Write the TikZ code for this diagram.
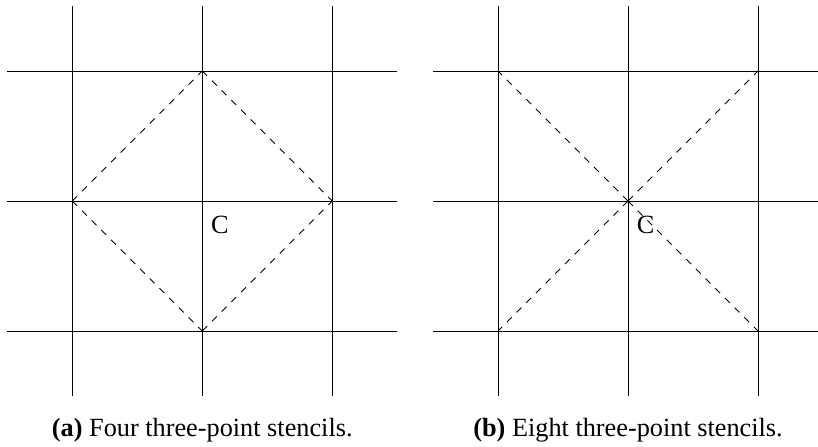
\documentclass[tikz,border=0pt]{standalone}
\usepackage{fontspec}
\setmainfont{Liberation Serif}
\usepackage{tikz}
\usetikzlibrary{positioning,calc}
\tikzstyle{gridline} = [black,thin]
\tikzstyle{stencil} = [black,dashed,thin]
\tikzstyle{caption} = [anchor=base,inner sep=0pt,font=\fontsize{11.5}{14}\selectfont]
\tikzstyle{centre} = [anchor=north west,inner sep=0pt,font=\fontsize{11.5}{14}\selectfont]

\begin{document}
\begin{tikzpicture}[x=2cm,y=2cm]
	\useasboundingbox (-1.556,-1.892) rectangle (4.736,1.546);
	
	% (a) four stencils
	\draw[gridline] (-1.5,1) -- (1.5,1);
	\draw[gridline] (-1.5,0) -- (1.5,0);
	\draw[gridline] (-1.5,-1) -- (1.5,-1);
	\draw[gridline] (-1,-1.5) -- (-1,1.5);
	\draw[gridline] (0,-1.5) -- (0,1.5);
	\draw[gridline] (1,-1.5) -- (1,1.5);
	
	\coordinate (a-c) at (0,0);
	\coordinate (a-n) at (0,1);
	\coordinate (a-s) at (0,-1);
	\coordinate (a-e) at (1,0);
	\coordinate (a-w) at (-1,0);
	
	\draw[stencil] (a-w) -- (a-n);
	\draw[stencil] (a-n) -- (a-e);
	\draw[stencil] (a-w) -- (a-s);
	\draw[stencil] (a-s) -- (a-e);
	
	\node[centre] (a-lab) at ($(a-c)+(0.13cm,-0.23cm)$) {C};
	\node[caption] (a-cap) at (0,-1.81) {\textbf{(a)} Four three-point stencils.};
	
	% (b) eight stencils
	\begin{scope}[xshift=6.55cm]
		\draw[gridline] (-1.5,1) -- (1.5,1);
		\draw[gridline] (-1.5,0) -- (1.5,0);
		\draw[gridline] (-1.5,-1) -- (1.5,-1);
		\draw[gridline] (-1,-1.5) -- (-1,1.5);
		\draw[gridline] (0,-1.5) -- (0,1.5);
		\draw[gridline] (1,-1.5) -- (1,1.5);
		
		\coordinate (b-c) at (0,0);
		\coordinate (b-ne) at (1,1);
		\coordinate (b-nw) at (-1,1);
		\coordinate (b-se) at (1,-1);
		\coordinate (b-sw) at (-1,-1);
		
		\draw[stencil] (b-c) -- (b-ne);
		\draw[stencil] (b-c) -- (b-nw);
		\draw[stencil] (b-c) -- (b-se);
		\draw[stencil] (b-c) -- (b-sw);
		
		\node[centre] (b-lab) at ($(b-c)+(0.13cm,-0.23cm)$) {C};
		\node[caption] (b-cap) at (0,-1.81) {\textbf{(b)} Eight three-point stencils.};
	\end{scope}
\end{tikzpicture}
\end{document}
